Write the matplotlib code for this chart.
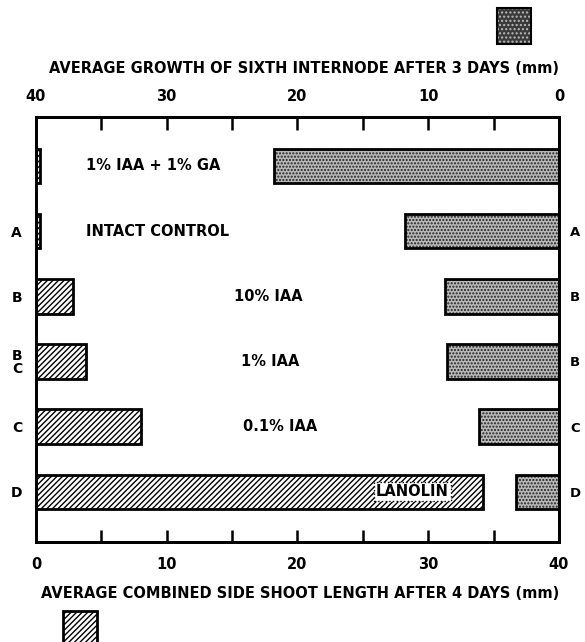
import numpy as np
import matplotlib.pyplot as plt
from matplotlib.patches import Rectangle

plt.rcParams['font.family'] = ['DejaVu Sans']
plt.rcParams['font.weight'] = 'bold'
plt.rcParams['hatch.linewidth'] = 1.0

# data, rows top to bottom
treatments = ['1% IAA + 1% GA', 'INTACT CONTROL', '10% IAA', '1% IAA', '0.1% IAA', 'LANOLIN']
side_shoot = [0.3, 0.3, 2.8, 3.8, 8.0, 34.2]      # mm after 4 days (bottom axis)
internode = [21.8, 11.8, 8.7, 8.6, 6.1, 3.3]      # mm after 3 days (top axis, reversed)
left_letters = ['', 'A', 'B', 'B\nC', 'C', 'D']
right_letters = ['', 'A', 'B', 'B', 'C', 'D']
text_x = [9.0, 9.3, 17.8, 17.9, 18.7, 28.8]       # where treatment names sit (bottom-axis units)

y = np.arange(len(treatments))
bh = 0.53

fig = plt.figure(figsize=(5.85, 6.42), dpi=100)
ax = fig.add_axes([0.0615, 0.1558, 0.894, 0.662])

# hatched bars - side shoot length
ax.barh(y, side_shoot, height=bh, color='white', edgecolor='black',
        hatch='//////', linewidth=2, zorder=2)
ax.set_xlim(0, 40)
ax.set_ylim(5.77, -0.75)

# stippled bars - internode growth, on reversed top axis
ax2 = ax.twiny()
ax2.barh(y, internode, height=bh, color='#b8b8b8', edgecolor='#202020',
         hatch='.....', linewidth=0, zorder=2)
ax2.barh(y, internode, height=bh, fill=False, edgecolor='black', linewidth=2, zorder=3)
ax2.set_xlim(40, 0)
ax2.set_ylim(5.77, -0.75)

for a in (ax, ax2):
    for s in a.spines.values():
        s.set_linewidth(2)

ax.set_xticks([0, 10, 20, 30, 40])
ax.set_xticks([5, 15, 25, 35], minor=True)
ax.tick_params(axis='x', which='both', direction='in', length=9, width=1.8,
               labelsize=10.5, pad=11)
ax2.set_xticks([40, 30, 20, 10, 0])
ax2.set_xticks([35, 25, 15, 5], minor=True)
ax2.tick_params(axis='x', which='both', direction='in', length=9, width=1.8,
                labelsize=10.5, pad=9)

ax.set_yticks(y)
ax.set_yticklabels(left_letters, fontsize=10, linespacing=0.9)
ax.tick_params(axis='y', length=0, pad=10)

ax3 = ax.twinx()
ax3.set_ylim(5.77, -0.75)
ax3.set_yticks(y)
ax3.set_yticklabels(right_letters, fontsize=9.5)
ax3.tick_params(axis='y', length=0, pad=8)
for s in ax3.spines.values():
    s.set_visible(False)

for i, t in enumerate(treatments):
    if t == 'LANOLIN':
        ax2.text(40 - text_x[i], y[i], t, ha='center', va='center', fontsize=10.5,
                 zorder=5, bbox=dict(facecolor='white', edgecolor='black',
                                     linestyle=':', linewidth=1, pad=1.5))
    else:
        ax2.text(40 - text_x[i], y[i], t, ha='center', va='center', fontsize=10.5, zorder=5)

fig.text(0.52, 0.894, 'AVERAGE GROWTH OF SIXTH INTERNODE AFTER 3 DAYS (mm)',
         ha='center', va='center', fontsize=10.5)
fig.text(0.513, 0.076, 'AVERAGE COMBINED SIDE SHOOT LENGTH AFTER 4 DAYS (mm)',
         ha='center', va='center', fontsize=10.5)

# key swatches
fig.patches.append(Rectangle((497 / 585, 1 - 44 / 642), 34 / 585, 36 / 642,
                             transform=fig.transFigure, facecolor='#3a3a3a',
                             edgecolor='#bbbbbb', hatch='....', linewidth=0))
fig.patches.append(Rectangle((497 / 585, 1 - 44 / 642), 34 / 585, 36 / 642,
                             transform=fig.transFigure, fill=False,
                             edgecolor='black', linewidth=1.5))
fig.patches.append(Rectangle((63 / 585, 1 - 645 / 642), 34 / 585, 34 / 642,
                             transform=fig.transFigure, facecolor='white',
                             edgecolor='black', hatch='//////', linewidth=2))

fig.savefig('out.png', dpi=100)
